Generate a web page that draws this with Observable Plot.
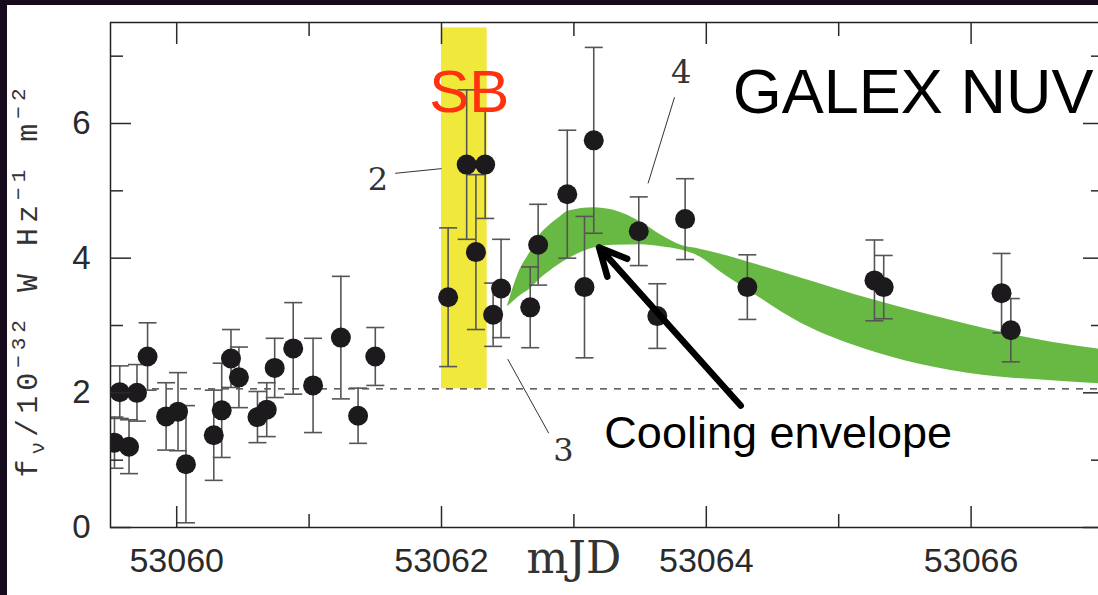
<!DOCTYPE html>
<html><head><meta charset="utf-8">
<script src="https://cdn.jsdelivr.net/npm/d3@7"></script>
<script src="https://cdn.jsdelivr.net/npm/@observablehq/plot@0.6"></script>
<style>
html,body{margin:0;padding:0;background:#fff;overflow:hidden;width:1098px;height:595px;}
#chart{position:absolute;left:0;top:0;width:1110px;}
#chart svg{max-width:none !important;}
.edge{position:absolute;background:#170a1c;}
</style></head><body>
<div id="chart"></div>
<div class="edge" style="left:0;top:0;width:1098px;height:5px"></div>
<div class="edge" style="left:0;top:0;width:7px;height:595px"></div>
<script>
// GALEX NUV photometry (mJD, flux in 1e-32 W Hz^-1 m^-2, 1-sigma error)
const mjd  = [53059.53, 53059.57, 53059.70, 53059.64, 53059.78, 53059.92, 53060.01, 53060.07, 53060.28, 53060.34,
              53060.41, 53060.47, 53060.61, 53060.68, 53060.74, 53060.88, 53061.03, 53061.24, 53061.37, 53061.50,
              53062.05, 53062.19, 53062.33, 53062.26, 53062.39, 53062.45, 53062.67, 53062.73, 53062.95, 53063.15,
              53063.08, 53063.49, 53063.63, 53063.84, 53064.31, 53065.27, 53065.34, 53066.23, 53066.30];
const flux = [1.26, 2.01, 2.00, 1.20, 2.54, 1.65, 1.72, 0.94, 1.37, 1.74,
              2.51, 2.23, 1.64, 1.75, 2.37, 2.66, 2.11, 2.82, 1.66, 2.54,
              3.42, 5.39, 5.39, 4.09, 3.16, 3.55, 3.27, 4.20, 4.95, 5.75,
              3.57, 4.40, 3.14, 4.58, 3.57, 3.67, 3.57, 3.48, 2.93];
const err  = [0.38, 0.39, 0.42, 0.40, 0.50, 0.50, 0.58, 0.87, 0.67, 0.70,
              0.43, 0.45, 0.38, 0.40, 0.44, 0.68, 0.70, 0.91, 0.41, 0.43,
              1.03, 1.11, 0.80, 1.15, 0.47, 0.73, 0.60, 0.60, 0.95, 1.38,
              1.05, 0.51, 0.48, 0.60, 0.48, 0.60, 0.47, 0.59, 0.47];

// Cooling envelope (upper / lower bounds)
const envX     = [53062.50, 53062.58, 53062.68, 53062.75, 53062.80, 53062.90, 53062.96, 53063.15, 53063.30, 53063.51, 53063.66,
                  53063.81, 53063.96, 53064.11, 53064.32, 53064.72, 53064.97, 53065.28, 53065.72, 53066.23, 53066.61, 53067.00];
const envUpper = [3.30, 3.77, 4.12, 4.36, 4.46, 4.62, 4.70, 4.75, 4.71, 4.53, 4.34,
                  4.19, 4.13, 4.06, 3.94, 3.70, 3.55, 3.37, 3.14, 2.90, 2.75, 2.64];
const envLower = [3.28, 3.42, 3.56, 3.70, 3.78, 3.92, 3.99, 4.15, 4.19, 4.20, 4.17,
                  4.12, 4.01, 3.79, 3.52, 3.03, 2.81, 2.60, 2.38, 2.23, 2.18, 2.13];

// Shock breakout band and quiescent level
const sbRange = [53062.00, 53062.345];
const sbFlux  = [2.06, 7.42];
const quiescent = [2.06];

// Axes
const xDomain = [53059.5, 53067];
const yDomain = [0, 7.5];
const xMajor = [53060, 53062, 53064, 53066];
const xMinor = [53061, 53063, 53065, 53067];
const yMajor = [0, 2, 4, 6];
const yMinor = [1, 3, 5, 7];
const xTitle = "mJD";

// Annotations
const epochLabels = ["2", "3", "4"];
const epochLabelX = [53061.52, 53062.92, 53063.81];
const epochLabelY = [5.16, 1.14, 6.76];
const leaderX1 = [53061.65, 53062.50, 53063.76];
const leaderY1 = [5.26, 2.50, 6.39];
const leaderX2 = [53062.00, 53062.81, 53063.56];
const leaderY2 = [5.33, 1.40, 5.11];
const bigTexts = ["SB", "GALEX NUV", "Cooling envelope"];
const bigTextX = [53062.21, 53064.20, 53063.23];
const bigTextY = [6.45, 6.46, 1.40];
const arrowFrom = [53064.26, 1.81];
const arrowTo   = [53063.19, 4.16];

const points = mjd.map((t, i) => ({t, f: flux[i], lo: flux[i] - err[i], hi: flux[i] + err[i]}));
const envelope = envX.map((t, i) => ({t, lo: envLower[i], hi: envUpper[i]}));
const leaders = leaderX1.map((x1, i) => ({x1, y1: leaderY1[i], x2: leaderX2[i], y2: leaderY2[i]}));
const epochs = epochLabels.map((s, i) => ({s, x: epochLabelX[i], y: epochLabelY[i]}));
const capSymbol = {draw(ctx) { ctx.moveTo(-9, 0); ctx.lineTo(9, 0); }};

const tickColor = "#2a2a2a";
const chart = Plot.plot({
  width: 1110, height: 595,
  marginLeft: 110, marginRight: 7, marginTop: 22, marginBottom: 68,
  style: {background: "white", color: "#222", fontFamily: "Liberation Sans, Arial, sans-serif", maxWidth: "none"},
  x: {domain: xDomain, label: null, axis: null},
  y: {domain: yDomain, label: null, axis: null},
  marks: [
    Plot.rect([0], {x1: sbRange[0], x2: sbRange[1], y1: sbFlux[0], y2: sbFlux[1], fill: "#f1e83c"}),
    Plot.areaY(envelope, {x: "t", y1: "lo", y2: "hi", fill: "#68b943", curve: "monotone-x"}),
    Plot.ruleY(quiescent, {stroke: "#333", strokeWidth: 1.2, strokeDasharray: "7,7"}),
    Plot.link(leaders, {x1: "x1", y1: "y1", x2: "x2", y2: "y2", stroke: "#333", strokeWidth: 1}),
    Plot.ruleX(points, {x: "t", y1: "lo", y2: "hi", stroke: "#555", strokeWidth: 1.6, clip: true}),
    Plot.dot(points, {x: "t", y: "lo", symbol: capSymbol, fill: "none", stroke: "#555", strokeWidth: 1.6, clip: true}),
    Plot.dot(points, {x: "t", y: "hi", symbol: capSymbol, fill: "none", stroke: "#555", strokeWidth: 1.6, clip: true}),
    Plot.dot(points, {x: "t", y: "f", r: 10, fill: "#1c1a1c", clip: true}),
    Plot.frame({stroke: "#222", strokeWidth: 1.5}),
    // inward ticks on all four sides
    Plot.axisX({anchor: "bottom", ticks: xMajor, tickSize: -21, fill: "none", stroke: tickColor, strokeWidth: 1.5}),
    Plot.axisX({anchor: "bottom", ticks: xMinor, tickSize: -13, fill: "none", stroke: tickColor, strokeWidth: 1.5}),
    Plot.axisX({anchor: "top", ticks: xMajor, tickSize: -21, fill: "none", stroke: tickColor, strokeWidth: 1.5}),
    Plot.axisX({anchor: "top", ticks: xMinor, tickSize: -13, fill: "none", stroke: tickColor, strokeWidth: 1.5}),
    Plot.axisY({anchor: "left", ticks: yMajor, tickSize: -21, fill: "none", stroke: tickColor, strokeWidth: 1.5}),
    Plot.axisY({anchor: "left", ticks: yMinor, tickSize: -13, fill: "none", stroke: tickColor, strokeWidth: 1.5}),
    Plot.axisY({anchor: "right", ticks: yMajor, tickSize: -21, fill: "none", stroke: tickColor, strokeWidth: 1.5}),
    Plot.axisY({anchor: "right", ticks: yMinor, tickSize: -13, fill: "none", stroke: tickColor, strokeWidth: 1.5}),
    // tick labels
    Plot.axisX({anchor: "bottom", ticks: xMajor, tickSize: 0, tickPadding: 20, tickFormat: d => String(d), label: null,
                fontSize: 34, fill: "#2a2a2a"}),
    Plot.axisY({anchor: "left", ticks: yMajor, tickSize: 0, tickPadding: 20, tickFormat: d => String(d), label: null,
                fontSize: 33, fill: "#2a2a2a"}),
    Plot.text([xTitle], {x: 53063.0, frameAnchor: "bottom", dy: 31, lineAnchor: "middle", text: d => d,
                fontFamily: "DejaVu Serif, serif", fontSize: 44, fill: "#333"}),
    Plot.text(epochs, {x: "x", y: "y", text: "s", fontFamily: "DejaVu Serif, serif", fontSize: 32, fill: "#333"}),
    Plot.text([0], {x: bigTextX[0], y: bigTextY[0], text: () => bigTexts[0], fontSize: 60, fill: "#ff3210"}),
    Plot.text([1], {x: bigTextX[1], y: bigTextY[1], text: () => bigTexts[1], fontSize: 63, fill: "#000", textAnchor: "start"}),
    Plot.text([2], {x: bigTextX[2], y: bigTextY[2], text: () => bigTexts[2], fontSize: 45, fill: "#000", textAnchor: "start"}),
    Plot.arrow([0], {x1: arrowFrom[0], y1: arrowFrom[1], x2: arrowTo[0], y2: arrowTo[1],
                     stroke: "#000", strokeWidth: 6.5, headLength: 7, headAngle: 52})
  ]
});
chart.style.maxWidth = "none";
chart.style.width = "1110px";
chart.style.height = "595px";
document.getElementById("chart").appendChild(chart);

// rotated y-axis title with sub/superscripts
const yl = d3.select(chart).append("text")
  .attr("transform", "translate(37,283) rotate(-90)")
  .attr("text-anchor", "middle")
  .attr("font-family", "Liberation Mono, monospace")
  .attr("font-size", 30)
  .attr("fill", "#333");
yl.append("tspan").text("f");
yl.append("tspan").attr("dy", 7).attr("font-size", 21).text("ν");
yl.append("tspan").attr("dy", -7).text("/10");
yl.append("tspan").attr("dy", -12).attr("font-size", 21).text("−32");
yl.append("tspan").attr("dy", 12).text(" W Hz");
yl.append("tspan").attr("dy", -12).attr("font-size", 21).text("−1");
yl.append("tspan").attr("dy", 12).text(" m");
yl.append("tspan").attr("dy", -12).attr("font-size", 21).text("−2");
yl.attr("textLength", 389).attr("lengthAdjust", "spacing");
</script>
</body></html>
